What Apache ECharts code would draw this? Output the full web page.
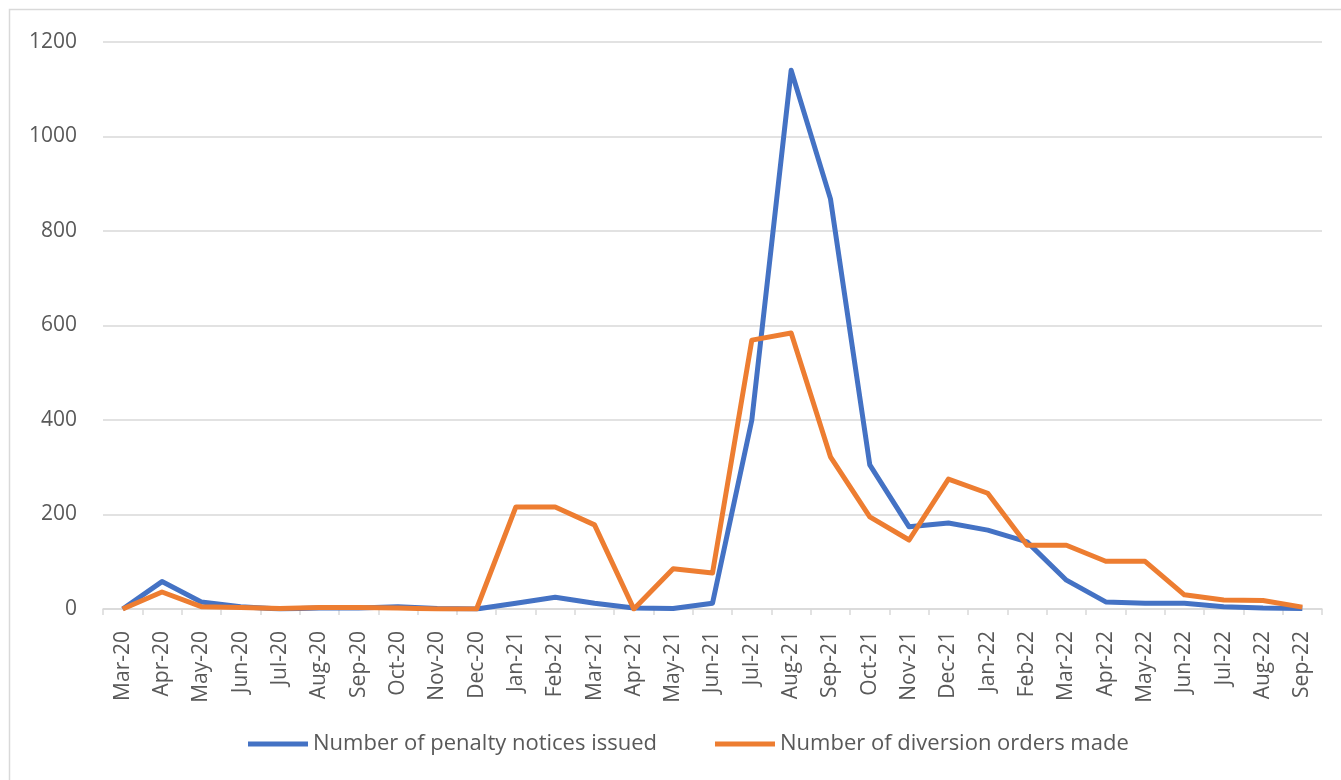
<!DOCTYPE html>
<html>
<head>
<meta charset="utf-8">
<script src="https://cdn.jsdelivr.net/npm/echarts@6/dist/echarts.min.js"></script>
<style>
html,body{margin:0;padding:0;background:#fff;}
#c{width:1341px;height:780px;}
</style>
</head>
<body>
<div id="c"></div>
<script>
const categories = ["Mar-20","Apr-20","May-20","Jun-20","Jul-20","Aug-20","Sep-20","Oct-20","Nov-20","Dec-20",
"Jan-21","Feb-21","Mar-21","Apr-21","May-21","Jun-21","Jul-21","Aug-21","Sep-21","Oct-21","Nov-21","Dec-21",
"Jan-22","Feb-22","Mar-22","Apr-22","May-22","Jun-22","Jul-22","Aug-22","Sep-22"];
const penaltyNotices = [0,58,15,5,0,2,2,5,1,0,12,25,12,2,1,12,400,1140,868,305,174,182,167,142,61,15,12,12,5,2,1];
const diversionOrders = [0,36,5,3,1,3,3,2,0,0,216,216,178,0,85,76,569,584,322,195,146,275,245,135,135,101,101,30,19,18,4];
const seriesNames = ["Number of penalty notices issued","Number of diversion orders made"];
const yTicks = {min:0, max:1200, interval:200};

const FONT = "'Open Sans', 'Noto Sans', sans-serif";
const chart = echarts.init(document.getElementById('c'));
chart.setOption({
  animation:false,
  backgroundColor:'#ffffff',
  graphic:[{type:'rect', shape:{x:9.5,y:9.5,width:1400,height:800}, style:{fill:null, stroke:'#d9d9d9', lineWidth:1.5}, silent:true}],
  grid:{left:103, right:19, top:42, bottom:171},
  legend:{
    bottom:20, left:243,
    icon:'rect', itemWidth:60, itemHeight:5, itemGap:58,
    textStyle:{color:'#595959', fontSize:22, fontFamily:FONT},
    data:seriesNames
  },
  xAxis:{
    type:'category', data:categories, boundaryGap:true,
    axisLine:{lineStyle:{color:'#d9d9d9', width:1.5}},
    axisTick:{show:true, length:6, lineStyle:{color:'#d9d9d9', width:1.5}},
    axisLabel:{rotate:90, interval:0, margin:22, color:'#595959', fontSize:21, fontFamily:FONT}
  },
  yAxis:{
    type:'value', min:yTicks.min, max:yTicks.max, interval:yTicks.interval,
    axisLine:{show:false}, axisTick:{show:false},
    splitLine:{lineStyle:{color:'#d9d9d9', width:1.5}},
    axisLabel:{margin:26, color:'#595959', fontSize:21, fontFamily:FONT, formatter:function(v){return String(v);}}
  },
  series:[
    {name:seriesNames[0], type:'line', data:penaltyNotices, showSymbol:false, symbol:'none',
     lineStyle:{color:'#4472C4', width:5, join:'round'}, itemStyle:{color:'#4472C4'}},
    {name:seriesNames[1], type:'line', data:diversionOrders, showSymbol:false, symbol:'none',
     lineStyle:{color:'#ED7D31', width:5, join:'round'}, itemStyle:{color:'#ED7D31'}}
  ]
});
</script>
</body>
</html>
